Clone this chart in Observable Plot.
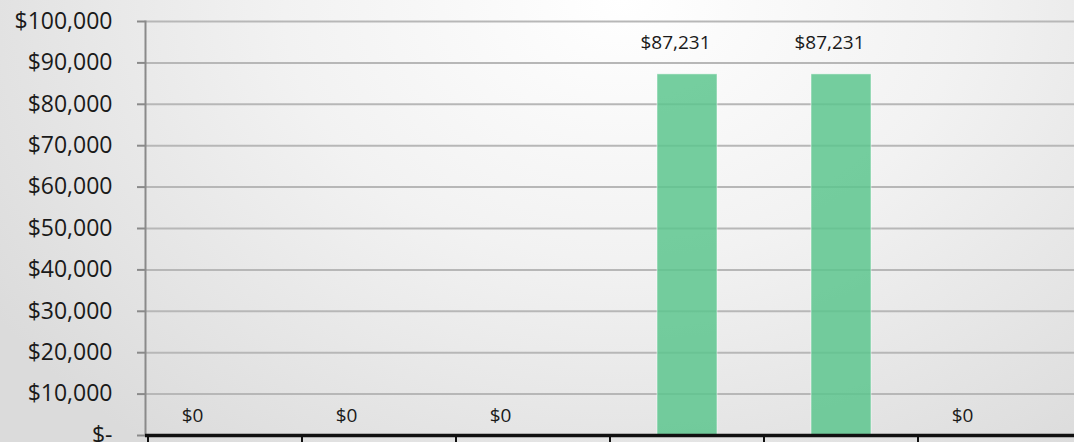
<!DOCTYPE html>
<html><head><meta charset="utf-8">
<script src="https://cdn.jsdelivr.net/npm/d3@7"></script>
<script src="https://cdn.jsdelivr.net/npm/@observablehq/plot@0.6"></script>
<style>
html,body{margin:0;padding:0;width:1074px;height:442px;overflow:hidden;
background:radial-gradient(ellipse 70% 130% at 58% 0%, #ffffff 0%, #f2f2f2 45%, #dbdbdb 100%);}
svg{display:block}
</style></head><body><div id="chart"></div>
<script>
const categories = ["1", "2", "3", "4", "5", "6"];
const values = [0, 0, 0, 87231, 87231, 0];
const yTicks = [0, 10000, 20000, 30000, 40000, 50000, 60000, 70000, 80000, 90000, 100000];

const data = categories.map((c, i) => ({category: c, value: values[i]}));
const axisMoney = d => d === 0 ? "$-" : "$" + d3.format(",")(d);
const labelMoney = d => "$" + d3.format(",")(d.value);

const chart = Plot.plot({
  width: 1074, height: 442,
  marginTop: 21, marginBottom: 7, marginLeft: 145, marginRight: 0,
  style: {background: "transparent", fontFamily: "'Open Sans', sans-serif", color: "#1a1a1a"},
  x: {domain: categories, padding: 0, axis: null},
  y: {domain: [0, 100000], axis: null},
  marks: [
    Plot.ruleY(yTicks.filter(d => d > 0), {stroke: "#b7b7b7", strokeWidth: 2}),
    Plot.axisY(yTicks, {label: null, tickSize: 8, tickPadding: 25, tickFormat: axisMoney, fontSize: 23, stroke: "#8a8a8a", strokeWidth: 2, fill: "#1a1a1a"}),
    Plot.frame({anchor: "left", stroke: "#8a8a8a", strokeWidth: 2}),
    Plot.barY(data, {x: "category", y: "value", fill: "#5dc58e", fillOpacity: 0.85, stroke: "#ffffff", strokeOpacity: 0.5, strokeWidth: 1, insetLeft: 47, insetRight: 47}),
    Plot.ruleY([0], {stroke: "#111", strokeWidth: 3.5}),
    Plot.axisX({label: null, tickSize: 12, dx: -77.5, tickFormat: () => "", stroke: "#111", strokeWidth: 2}),
    Plot.text(data.filter(d => d.value > 0), {x: "category", y: "value", text: labelMoney, dx: -12, dy: -31, fontSize: 19, fill: "#1a1a1a"}),
    Plot.text(data.filter(d => d.value === 0), {x: "category", y: "value", text: labelMoney, dx: -33, dy: -20, fontSize: 19, fill: "#1a1a1a"})
  ]
});
document.getElementById("chart").appendChild(chart);
</script></body></html>
